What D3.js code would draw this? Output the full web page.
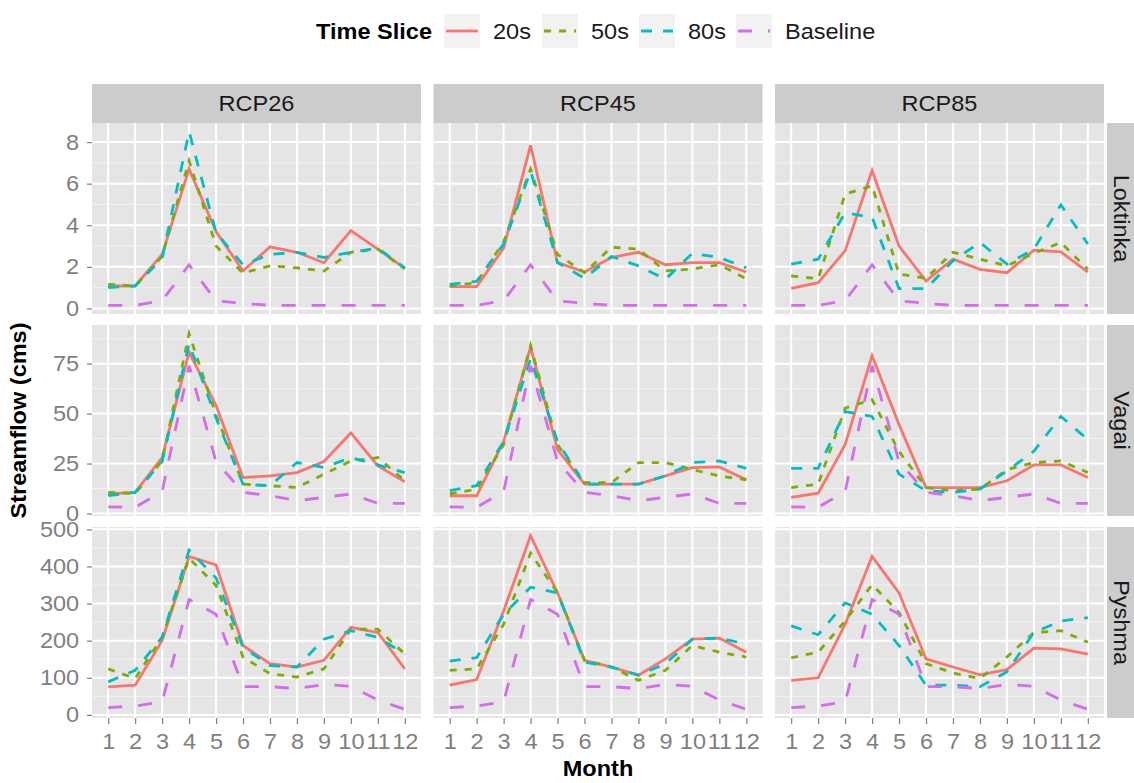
<!DOCTYPE html>
<html lang="en">
<head>
  <meta charset="UTF-8">
  <title>Streamflow by Time Slice</title>
  <script src="https://d3js.org/d3.v7.min.js"></script>
  <style>
    body {
      margin: 0;
      background: white;
    }
    svg text {
      font-family: "Liberation Sans", Arial, sans-serif;
    }
    .tick-label {
      fill: #7f7f7f;
      font-size: 22px;
    }
    .strip-label {
      fill: #1a1a1a;
      font-size: 22px;
    }
    .title {
      fill: #000;
      font-size: 22px;
      font-weight: bold;
    }
  </style>
</head>
<body>
  <svg id="chart"></svg>
  <script>
    const width = 1134;
    const height = 783;

    const months = [1, 2, 3, 4, 5, 6, 7, 8, 9, 10, 11, 12];
    const scenarios = ["RCP26", "RCP45", "RCP85"];
    const basins = ["Loktinka", "Vagai", "Pyshma"];
    const slices = ["20s", "50s", "80s", "Baseline"];

    // one row per scenario (RCP26, RCP45, RCP85), values by month
    const loktinka20s = [
      [1.08, 1.08, 2.6, 6.7, 3.7, 1.8, 2.96, 2.7, 2.2, 3.74, 2.85, 1.93],
      [1.05, 1.05, 2.9, 7.85, 2.2, 1.75, 2.45, 2.7, 2.1, 2.2, 2.2, 1.75],
      [0.97, 1.24, 2.77, 6.63, 3.0, 1.32, 2.37, 1.88, 1.72, 2.8, 2.72, 1.75]
    ];
    const loktinka50s = [
      [1.16, 1.08, 2.5, 7.1, 3.0, 1.7, 2.05, 1.95, 1.8, 2.7, 2.85, 1.9],
      [1.08, 1.24, 3.2, 6.7, 2.6, 1.72, 2.95, 2.85, 1.8, 1.9, 2.1, 1.43],
      [1.56, 1.43, 5.5, 5.9, 1.65, 1.45, 2.7, 2.37, 2.05, 2.65, 3.17, 1.88]
    ];
    const loktinka80s = [
      [1.0, 1.08, 2.4, 8.5, 3.65, 2.1, 2.6, 2.7, 2.45, 2.7, 2.9, 1.95],
      [1.16, 1.3, 3.1, 6.6, 2.2, 1.45, 2.5, 2.05, 1.4, 2.65, 2.45, 1.95],
      [2.13, 2.37, 4.6, 4.38, 0.95, 0.95, 2.29, 3.17, 2.13, 2.85, 4.98, 3.1]
    ];
    const loktinkaBase = [0.15, 0.15, 0.37, 2.1, 0.37, 0.24, 0.15, 0.15, 0.15, 0.15, 0.15, 0.15];

    const vagai20s = [
      [9.8, 10.6, 28, 80.8, 54, 18, 18.8, 20.5, 26, 40.3, 23.8, 15.9],
      [8.9, 8.9, 36, 83.3, 32, 14.7, 14.7, 14.7, 18.8, 23, 23.3, 16.9],
      [8.1, 10.2, 34.5, 79, 44.5, 13, 13, 13, 16.4, 24.3, 24.3, 18]
    ];
    const vagai50s = [
      [10.6, 10, 26.3, 90, 49.4, 14.7, 13.9, 13, 19.7, 26.3, 28, 16.4],
      [9.8, 12.2, 34.5, 84, 34.5, 15.5, 15.5, 25.5, 25.5, 22, 18.8, 16.9],
      [13, 14.7, 52.7, 57, 31, 13, 11.4, 12.2, 22, 25.5, 26.3, 20.5]
    ];
    const vagai80s = [
      [8.9, 10.6, 26, 85, 47.8, 14.7, 13.9, 25.5, 23, 28, 24.3, 20.5],
      [11.4, 13.9, 36, 77.5, 36, 14.7, 14.7, 14.7, 18.8, 25.5, 26.3, 22.6],
      [22.6, 22.6, 51, 48.6, 19.7, 11.4, 10.6, 12.2, 21.3, 31.2, 48.6, 37]
    ];
    const vagaiBase = [3.3, 3.1, 11, 74, 26, 10.6, 8.9, 6.4, 8.1, 9.8, 5.1, 5.1];

    const pyshma20s = [
      [75.6, 80, 200, 427, 404, 187, 138, 129, 147, 236, 222, 124],
      [80, 95, 280, 483, 329, 147, 129, 107, 151, 204, 207, 169],
      [93, 100, 244, 427, 329, 151, 129, 108, 122, 180, 178, 164]
    ];
    const pyshma50s = [
      [124, 98, 209, 422, 349, 156, 111, 102, 124, 231, 231, 164],
      [120, 124, 244, 436, 329, 147, 129, 93, 120, 187, 169, 156],
      [154, 169, 253, 351, 276, 138, 113, 98, 156, 222, 227, 196]
    ];
    const pyshma80s = [
      [89, 120, 209, 444, 369, 182, 133, 129, 204, 227, 209, 164],
      [145, 154, 271, 344, 329, 142, 129, 107, 138, 204, 207, 191],
      [240, 216, 302, 271, 187, 80, 80, 76, 116, 222, 253, 262]
    ];
    const pyshmaBase = [19.6, 24, 35, 311, 271, 76, 76, 71, 82, 77, 40, 15];

    const yTicks = [
      [0, 2, 4, 6, 8],
      [0, 25, 50, 75],
      [0, 100, 200, 300, 400, 500]
    ];

    const seriesByBasin = [
      [loktinka20s, loktinka50s, loktinka80s, loktinkaBase],
      [vagai20s, vagai50s, vagai80s, vagaiBase],
      [pyshma20s, pyshma50s, pyshma80s, pyshmaBase]
    ];

    const colors = ["#F8766D", "#7CAE00", "#00BFC4", "#D46CEB"];
    const dashes = [null, "7,8", "11,11", "14,16"];

    // layout
    const panelLeft = 92, panelW = 329, colGap = 12.5;
    const panelTop = 123, panelH = 191, rowGap = 11;
    const stripH = 39, rightStripW = 40;
    const stretch = "scale(1.07,1)"; // reference glyphs are a bit wider than Liberation

    const svg = d3.select("#chart")
      .attr("width", width)
      .attr("height", height);

    const x = scenarios.map((s, i) => {
      const x0 = panelLeft + i * (panelW + colGap);
      return d3.scalePoint().domain(months).range([x0, x0 + panelW]).padding(0.6);
    });

    const y = basins.map((b, r) => {
      const vals = seriesByBasin[r].flatMap(s => Array.isArray(s[0]) ? s.flat() : s);
      const [lo, hi] = d3.extent(vals);
      const pad = (hi - lo) * 0.05;
      const y0 = panelTop + r * (panelH + rowGap);
      return d3.scaleLinear().domain([lo - pad, hi + pad]).range([y0 + panelH, y0]);
    });

    const line = d3.line();

    function label(parent, cls, px, py, txt, anchor, rot) {
      return parent.append("text")
        .attr("class", cls)
        .attr("transform", `translate(${px},${py})${rot ? ` rotate(${rot})` : ""} ${stretch}`)
        .attr("text-anchor", anchor || "middle")
        .attr("dominant-baseline", "central")
        .text(txt);
    }

    basins.forEach((basin, r) => {
      const ys = y[r];
      const [yb, yt] = ys.range();
      const majors = yTicks[r];
      const step = majors[1] - majors[0];
      const minors = d3.range(majors[0] - step / 2, ys.domain()[1], step)
        .filter(v => v > ys.domain()[0]);

      scenarios.forEach((sc, c) => {
        const xs = x[c];
        const [xl, xr] = xs.range();
        const g = svg.append("g");

        g.append("rect")
          .attr("x", xl).attr("y", yt)
          .attr("width", xr - xl).attr("height", yb - yt)
          .attr("fill", "#e5e5e5");

        g.selectAll(".minor").data(minors).join("line")
          .attr("x1", xl).attr("x2", xr)
          .attr("y1", d => ys(d)).attr("y2", d => ys(d))
          .attr("stroke", "#f2f2f2").attr("stroke-width", 1);

        g.selectAll(".hmaj").data(majors).join("line")
          .attr("x1", xl).attr("x2", xr)
          .attr("y1", d => ys(d)).attr("y2", d => ys(d))
          .attr("stroke", "white").attr("stroke-width", 2);

        g.selectAll(".vmaj").data(months).join("line")
          .attr("x1", d => xs(d)).attr("x2", d => xs(d))
          .attr("y1", yt).attr("y2", yb)
          .attr("stroke", "white").attr("stroke-width", 2);

        seriesByBasin[r].forEach((series, k) => {
          const vals = k === 3 ? series : series[c];
          g.append("path")
            .attr("d", line(months.map((m, i) => [xs(m), ys(vals[i])])))
            .attr("fill", "none")
            .attr("stroke", colors[k])
            .attr("stroke-width", 2.8)
            .attr("stroke-dasharray", dashes[k]);
        });

        // top strips
        if (r === 0) {
          svg.append("rect")
            .attr("x", xl).attr("y", yt - stripH)
            .attr("width", xr - xl).attr("height", stripH)
            .attr("fill", "#cccccc");
          label(svg, "strip-label", (xl + xr) / 2, yt - stripH / 2, sc);
        }

        // x axis on bottom row
        if (r === basins.length - 1) {
          const ax = svg.append("g").attr("transform", `translate(0,${yb})`)
            .call(d3.axisBottom(xs).tickSize(6).tickPadding(7));
          ax.select(".domain").remove();
          ax.selectAll(".tick line").attr("stroke", "#7f7f7f").attr("stroke-width", 1.2);
          ax.selectAll(".tick text")
            .attr("class", "tick-label")
            .attr("dy", "0.8em")
            .attr("transform", stretch);
        }
      });

      // y axis
      const ay = svg.append("g").attr("transform", `translate(${panelLeft},0)`)
        .call(d3.axisLeft(ys).tickValues(majors).tickSize(5).tickPadding(4));
      ay.select(".domain").remove();
      ay.selectAll(".tick line").attr("stroke", "#7f7f7f").attr("stroke-width", 1.2);
      ay.selectAll(".tick text")
        .attr("class", "tick-label")
        .attr("x", -12)
        .attr("transform", stretch);

      // right strip
      const sx = x[2].range()[1] + 3;
      svg.append("rect")
        .attr("x", sx).attr("y", yt)
        .attr("width", rightStripW).attr("height", yb - yt)
        .attr("fill", "#cccccc");
      label(svg, "strip-label", sx + 15, (yt + yb) / 2, basin, "middle", 90);
    });

    // axis titles
    label(svg, "title", (x[0].range()[0] + x[2].range()[1]) / 2, 768, "Month");
    label(svg, "title", 18, (y[0].range()[1] + y[2].range()[0]) / 2, "Streamflow (cms)", "middle", -90);

    // legend
    const legend = svg.append("g").attr("transform", "translate(0,31)");
    label(legend, "title", 432, 0, "Time Slice", "end");

    const keyX = [444, 542, 639, 736];
    slices.forEach((s, k) => {
      const kx = keyX[k];
      legend.append("rect")
        .attr("x", kx).attr("y", -17)
        .attr("width", 36).attr("height", 34)
        .attr("fill", "#f2f2f2");
      legend.append("line")
        .attr("x1", kx + 2).attr("x2", kx + 34)
        .attr("y1", 0).attr("y2", 0)
        .attr("stroke", colors[k])
        .attr("stroke-width", 2.8)
        .attr("stroke-dasharray", dashes[k]);
      label(legend, "strip-label", kx + 49, 0, s, "start");
    });
  </script>
</body>
</html>
